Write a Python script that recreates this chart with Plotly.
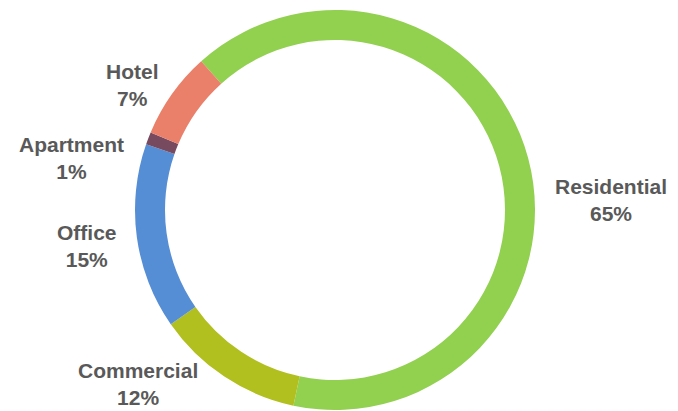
import plotly.graph_objects as go

labels = ["Residential", "Commercial", "Office", "Apartment", "Hotel"]
values = [65, 12, 15, 1, 7]
colors = ["#92D050", "#B1BF1F", "#558ED5", "#784A60", "#EA806A"]

# label anchor positions (pixels in 678x411 canvas) - layout only
label_pos = {
    "Residential": (611, 200),
    "Commercial": (138, 384),
    "Office": (87, 246),
    "Apartment": (71, 158),
    "Hotel": (132, 85),
}

W, H = 678, 411
cx, cy, R = 335, 210, 200

fig = go.Figure(go.Pie(
    labels=labels,
    values=values,
    hole=0.85,
    sort=False,
    direction="clockwise",
    rotation=-42,
    marker=dict(colors=colors, line=dict(width=0)),
    textinfo="none",
    hoverinfo="label+percent",
    showlegend=False,
    domain=dict(x=[(cx - R) / W, (cx + R) / W], y=[(H - (cy + R)) / H, (H - (cy - R)) / H]),
))

total = sum(values)
for lab, val in zip(labels, values):
    px, py = label_pos[lab]
    fig.add_annotation(
        x=px / W, y=1 - py / H, xref="paper", yref="paper",
        xanchor="center", yanchor="middle", showarrow=False,
        text=f"<b>{lab}<br>{round(100 * val / total)}%</b>",
        font=dict(family="Arial, Liberation Sans, sans-serif", size=21, color="#595959"),
        align="center",
    )

fig.update_layout(
    width=W, height=H,
    margin=dict(l=0, r=0, t=0, b=0),
    paper_bgcolor="white", plot_bgcolor="white",
)
fig.write_html("out.html", config={"displayModeBar": False},
               post_script="document.body.style.margin='0';")
